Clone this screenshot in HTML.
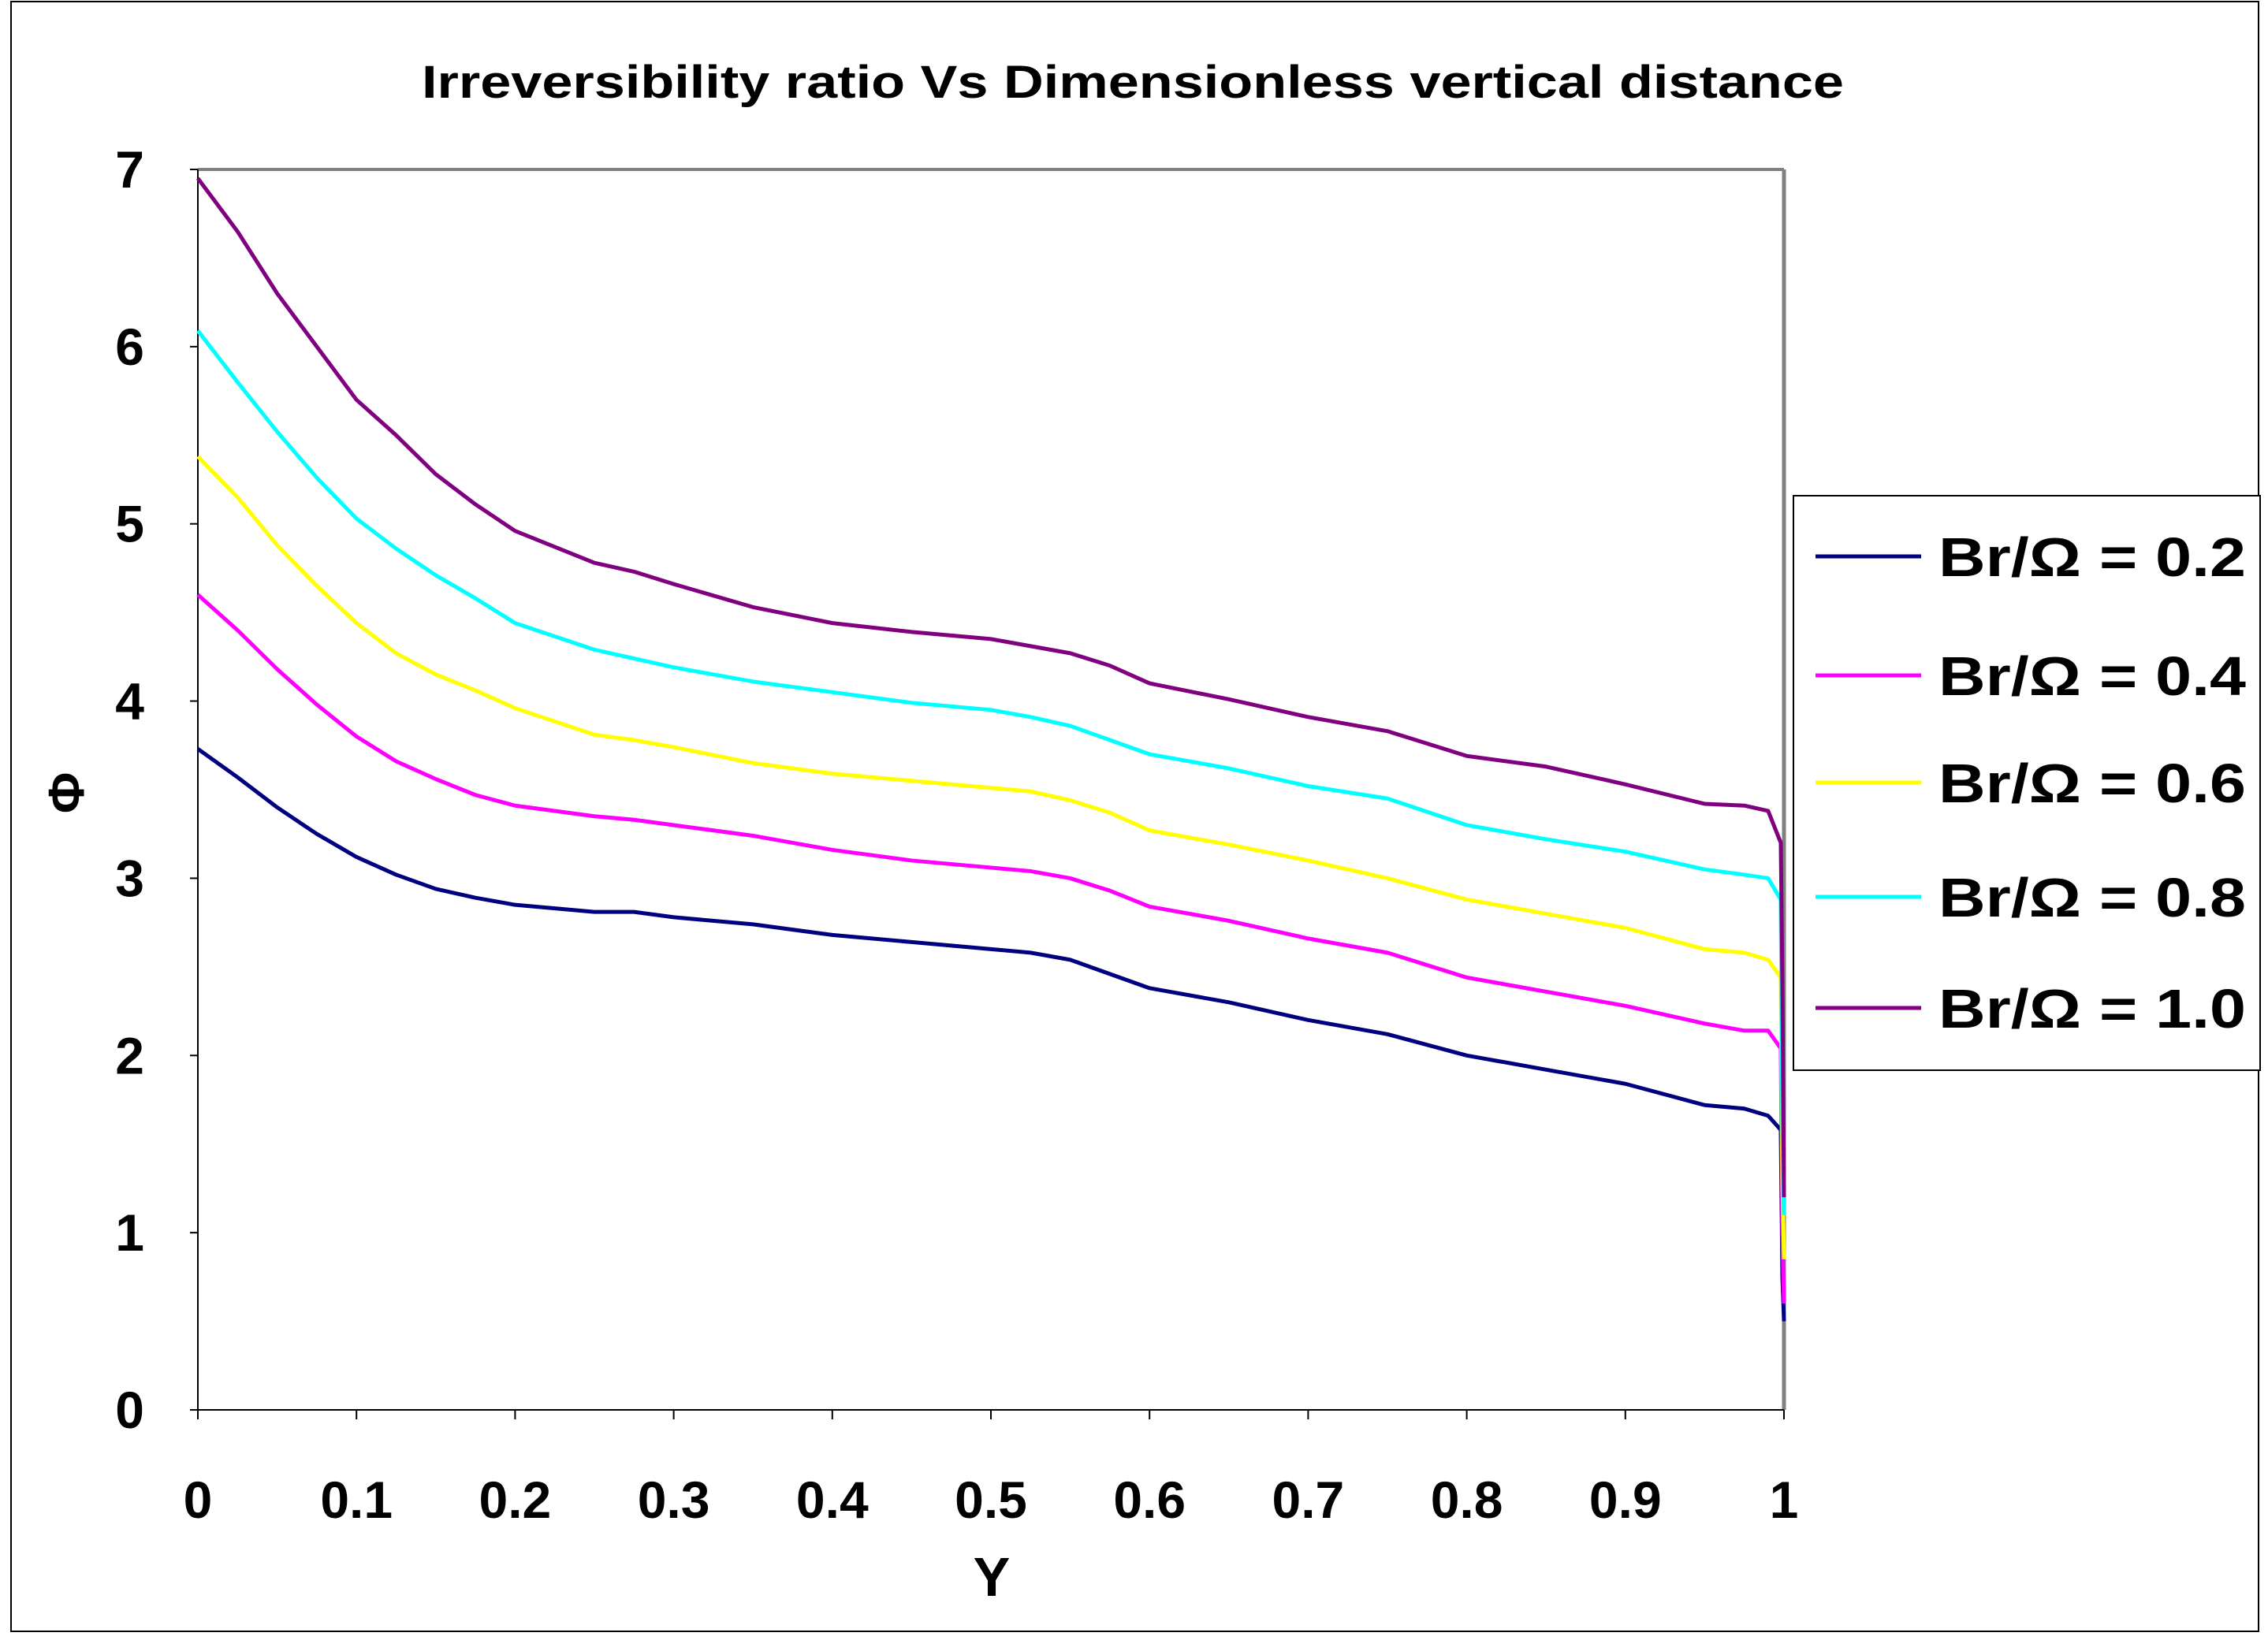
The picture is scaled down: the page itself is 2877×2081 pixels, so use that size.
<!DOCTYPE html>
<html><head><meta charset="utf-8"><style>
body{margin:0;background:#fff;}
svg{display:block;font-family:"Liberation Sans",Arial,sans-serif;font-weight:bold;}
</style></head><body>
<svg id="chart" width="2877" height="2081" viewBox="0 0 2877 2081">
<rect x="14" y="2" width="2851" height="2068" fill="#fff" stroke="#000" stroke-width="2"/>
<text x="1437" y="124" text-anchor="middle" font-size="58" textLength="1804" lengthAdjust="spacingAndGlyphs">Irreversibility ratio Vs Dimensionless vertical distance</text>
<g id="plot"></g>
<g id="legend"></g>
</svg>
<script>
const xs=[0,0.025,0.05,0.075,0.1,0.125,0.15,0.175,0.2,0.25,0.275,0.3,0.35,0.4,0.45,0.5,0.525,0.55,0.575,0.6,0.65,0.7,0.75,0.8,0.85,0.9,0.95,0.975,0.99,0.998,0.999,1.0];
const s02=[3.73,3.57,3.4,3.25,3.12,3.02,2.94,2.89,2.85,2.81,2.81,2.78,2.74,2.68,2.64,2.6,2.58,2.54,2.46,2.38,2.3,2.2,2.12,2.0,1.92,1.84,1.72,1.7,1.66,1.58,0.75,0.5];
const s04=[4.6,4.4,4.18,3.98,3.8,3.66,3.56,3.47,3.41,3.35,3.33,3.3,3.24,3.16,3.1,3.06,3.04,3.0,2.93,2.84,2.76,2.66,2.58,2.44,2.36,2.28,2.18,2.14,2.14,2.04,1.0,0.6];
const s06=[5.38,5.15,4.88,4.65,4.44,4.27,4.15,4.06,3.96,3.81,3.78,3.74,3.65,3.59,3.55,3.51,3.49,3.44,3.37,3.27,3.19,3.1,3.0,2.88,2.8,2.72,2.6,2.58,2.54,2.44,1.3,0.85];
const s08=[6.09,5.8,5.52,5.26,5.03,4.86,4.71,4.58,4.44,4.29,4.24,4.19,4.11,4.05,3.99,3.95,3.91,3.86,3.78,3.7,3.62,3.52,3.45,3.3,3.22,3.15,3.05,3.02,3.0,2.88,1.6,1.1];
const s10=[6.95,6.65,6.3,6.0,5.7,5.5,5.28,5.11,4.96,4.78,4.73,4.66,4.53,4.44,4.39,4.35,4.31,4.27,4.2,4.1,4.01,3.91,3.83,3.69,3.63,3.53,3.42,3.41,3.38,3.2,2.4,1.2];
const seriesNames=["Br/Ω = 0.2","Br/Ω = 0.4","Br/Ω = 0.6","Br/Ω = 0.8","Br/Ω = 1.0"];
const seriesColors=["#000080","#ff00ff","#ffff00","#00ffff","#800080"];
const xTicks=["0","0.1","0.2","0.3","0.4","0.5","0.6","0.7","0.8","0.9","1"];
const yTicks=["0","1","2","3","4","5","6","7"];
const L=251,R=2263,T=215,B=1789,XMAX=1,YMAX=7;
const X=v=>L+(v/XMAX)*(R-L), Y=v=>B-(v/YMAX)*(B-T);
const NS="http://www.w3.org/2000/svg";
const plot=document.getElementById('plot'), leg=document.getElementById('legend');
function mk(tag,attrs,parent){const e=document.createElementNS(NS,tag);for(const k in attrs)e.setAttribute(k,attrs[k]);parent.appendChild(e);return e;}
let e;
e=mk('line',{x1:L,y1:T,x2:R,y2:T,stroke:'#808080','stroke-width':4},plot);


e=mk('line',{x1:R,y1:T,x2:R,y2:B,stroke:'#808080','stroke-width':5},plot);


e=mk('line',{x1:L,y1:T,x2:L,y2:B,stroke:'#000','stroke-width':2},plot);


e=mk('line',{x1:L,y1:B,x2:R,y2:B,stroke:'#000','stroke-width':2},plot);


yTicks.forEach((t,i)=>{
 const v=parseFloat(t),y=Y(v);
 const tk=mk('line',{x1:L-10,y1:y,x2:L,y2:y,stroke:'#000','stroke-width':2},plot);
 
 
 const tx=mk('text',{x:183,y:y+23,'text-anchor':'end','font-size':66},plot);
 tx.textContent=t;
 
 
});
xTicks.forEach((t,i)=>{
 const v=parseFloat(t),x=X(v);
 const tk=mk('line',{x1:x,y1:B,x2:x,y2:B+12,stroke:'#000','stroke-width':2},plot);
 
 
 const tx=mk('text',{x:x,y:1926,'text-anchor':'middle','font-size':66},plot);
 tx.textContent=t;
 
 
});
e=mk('text',{x:1258,y:2025,'text-anchor':'middle','font-size':70},plot);
e.textContent='Y';


e=mk('text',{x:0,y:0,'text-anchor':'middle','font-size':64,transform:'translate(106,1006) rotate(-90)'},plot);
e.textContent='Φ';


[s02,s04,s06,s08,s10].forEach((s,i)=>{
 const p=mk('polyline',{points:s.map((v,j)=>X(xs[j])+','+Y(v)).join(' '),fill:'none',stroke:seriesColors[i],'stroke-width':5,'stroke-linejoin':'round'},plot);
 
 
});
e=mk('rect',{x:2275,y:629,width:592,height:729,fill:'#fff',stroke:'#000','stroke-width':2},leg);


const legY=[706,857,993,1138,1279];
seriesNames.forEach((n,i)=>{
 const ln=mk('line',{x1:2303,y1:legY[i],x2:2437,y2:legY[i],stroke:seriesColors[i],'stroke-width':5},leg);
 
 
 const tx=mk('text',{x:2459,y:legY[i]+25,'font-size':70,textLength:390,lengthAdjust:'spacingAndGlyphs'},leg);
 tx.textContent=n;
 
 
});
</script>
</body></html>
